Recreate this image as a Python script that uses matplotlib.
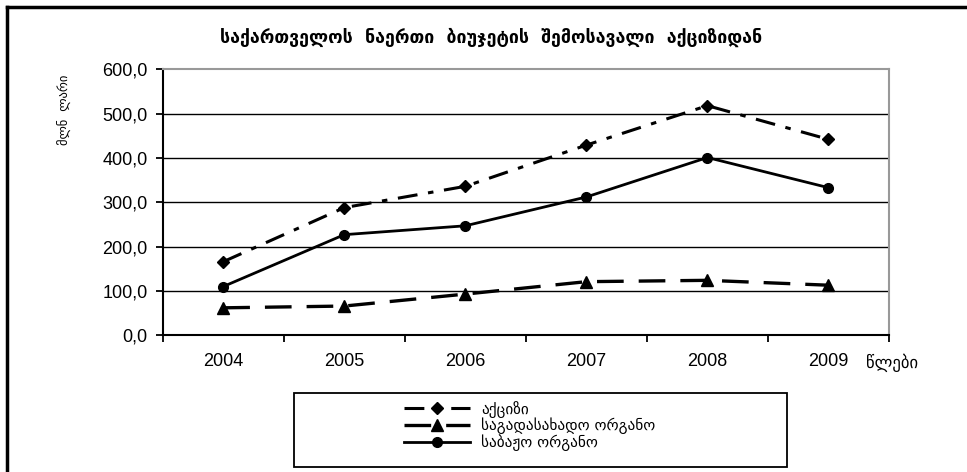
import matplotlib.pyplot as plt
from matplotlib.patches import Rectangle
from matplotlib.lines import Line2D

# values (million lari)
years = ['2004', '2005', '2006', '2007', '2008', '2009']
aqcizi = [166, 288, 336, 429, 518, 442]
sagadasaxado = [62, 66, 93, 121, 124, 113]
sabajo = [110, 227, 247, 312, 401, 333]
labels = ['აქციზი', 'საგადასახადო ორგანო', 'საბაჟო ორგანო']
y_ticks = [0, 100, 200, 300, 400, 500, 600]

fig = plt.figure(figsize=(9.67, 4.72), dpi=100)
ax = fig.add_axes([0.1683, 0.2896, 0.7510, 0.5636])

x = list(range(len(years)))

# gridlines
for v in y_ticks[1:-1]:
    ax.axhline(v, color='black', lw=1.0, zorder=1)

l1, = ax.plot(x, aqcizi, color='black', lw=2.2, dashes=(6.5, 3.5, 1.8, 3.5),
              marker='D', markersize=6, zorder=3)
l2, = ax.plot(x, sagadasaxado, color='black', lw=2.4, dashes=(8, 4.5),
              marker='^', markersize=8, zorder=3)
l3, = ax.plot(x, sabajo, color='black', lw=2.0, linestyle='-',
              marker='o', markersize=7, zorder=3)

ax.set_xlim(-0.5, len(years) - 0.5)
ax.set_ylim(0, 600)

ax.set_yticks(y_ticks)
ax.set_yticklabels([f'{v},0' for v in y_ticks], fontsize=13, family='Liberation Sans')

ax.set_xticks([i - 0.5 for i in range(len(years) + 1)])
ax.set_xticklabels([])
ax.set_xticks(x, minor=True)
ax.set_xticklabels(years, minor=True, fontsize=13, family='Liberation Sans')
ax.tick_params(axis='x', which='minor', length=0, pad=13)
ax.tick_params(axis='x', which='major', length=5, width=1.3, direction='out')
ax.tick_params(axis='y', length=5, width=1.3, direction='out', pad=6)

ax.spines['left'].set_linewidth(1.5)
ax.spines['bottom'].set_linewidth(1.5)
ax.spines['top'].set_color('#999999')
ax.spines['right'].set_color('#999999')
ax.spines['top'].set_linewidth(1.5)
ax.spines['right'].set_linewidth(1.5)

fig.text(0.508, 0.920, 'საქართველოს  ნაერთი  ბიუჯეტის  შემოსავალი  აქციზიდან',
         ha='center', va='center', fontsize=12.8, fontweight='bold',
         family='DejaVu Sans')
fig.text(0.067, 0.767, 'მლნ  ლარი', rotation=90, ha='center', va='center',
         fontsize=9, family='DejaVu Sans')
fig.text(0.923, 0.231, 'წლები', ha='center', va='center', fontsize=12,
         family='DejaVu Sans')

# legend frame and entries
fig.add_artist(Rectangle((294 / 967, 1 - 467 / 472), 493 / 967, 74 / 472,
                         transform=fig.transFigure, fill=False,
                         edgecolor='black', lw=1.3))
fig.legend([l1, l2, l3], labels, loc='center left',
           bbox_to_anchor=(404 / 967, 1 - 426 / 472), frameon=False,
           prop={'family': 'DejaVu Sans', 'size': 11}, handlelength=4.3,
           handletextpad=0.75, labelspacing=0.0, borderpad=0,
           borderaxespad=0)

# outer border (right and bottom edges fall outside the picture)
fig.add_artist(Line2D([7 / 967, 7 / 967], [0, 1 - 7 / 472],
                      transform=fig.transFigure, color='black', lw=2.5))
fig.add_artist(Line2D([7 / 967, 1], [1 - 7 / 472, 1 - 7 / 472],
                      transform=fig.transFigure, color='black', lw=2.5))

fig.savefig('out.png', dpi=100)
